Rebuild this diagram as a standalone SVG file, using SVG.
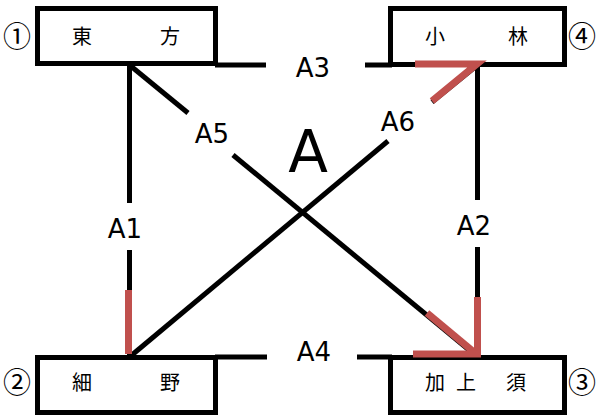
<svg xmlns="http://www.w3.org/2000/svg" width="596" height="416" viewBox="0 0 596 416">
<style>
.box{fill:#fff;stroke:#000;stroke-width:5}
.ln{stroke:#000;stroke-width:5;fill:none}
.red{stroke:#C0504D;stroke-width:7;fill:none;stroke-linecap:butt;stroke-linejoin:miter}
.lbl{font-family:"DejaVu Sans",sans-serif;font-size:26px;fill:#000;text-anchor:middle}
.big{font-family:"DejaVu Sans",sans-serif;font-size:58px;fill:#000;text-anchor:middle}
.jp{font-family:"Noto Sans CJK JP",sans-serif;font-size:20px;fill:#000;text-anchor:middle}
.num{font-family:"Noto Sans CJK JP",sans-serif;font-size:28px;fill:#000;text-anchor:middle}
</style>
<rect width="596" height="416" fill="#fff"/>
<g id="n1">
<rect class="box" x="37.5" y="8.5" width="178" height="55"/>
<text class="jp" x="82" y="44">東</text>
<text class="jp" x="170" y="44">方</text>
<text class="num" x="17" y="47">①</text>
</g>
<g id="n4">
<rect class="box" x="390.5" y="8.5" width="174" height="56"/>
<text class="jp" x="435" y="44">小</text>
<text class="jp" x="518" y="44">林</text>
<text class="num" x="582" y="47">④</text>
</g>
<g id="n2">
<rect class="box" x="37.5" y="357.5" width="178" height="55"/>
<text class="jp" x="82" y="390">細</text>
<text class="jp" x="170" y="390">野</text>
<text class="num" x="17" y="393">②</text>
</g>
<g id="n3">
<rect class="box" x="390.5" y="357.5" width="174" height="55"/>
<text class="jp" x="435" y="390">加</text>
<text class="jp" x="466" y="390">上</text>
<text class="jp" x="516" y="390">須</text>
<text class="num" x="582" y="393">③</text>
</g>
<g id="connectors">
<line class="ln" x1="129.5" y1="65" x2="129.5" y2="203"/>
<line class="ln" x1="129.5" y1="250" x2="129.5" y2="357"/>
<line class="ln" x1="477.5" y1="65" x2="477.5" y2="200"/>
<line class="ln" x1="477.5" y1="247" x2="477.5" y2="357"/>
<line class="ln" x1="215" y1="65" x2="266" y2="65"/>
<line class="ln" x1="365" y1="65" x2="392" y2="65"/>
<line class="ln" x1="215" y1="357" x2="267" y2="357"/>
<line class="ln" x1="357" y1="357" x2="392" y2="357"/>
<line class="ln" x1="129.5" y1="65" x2="188" y2="113"/>
<line class="ln" x1="233" y1="155" x2="477.5" y2="357"/>
<line class="ln" x1="129.5" y1="357" x2="388" y2="141"/>
<line class="ln" x1="432" y1="102" x2="477.5" y2="65"/>
<text class="lbl" x="313" y="77">A3</text>
<text class="lbl" x="314" y="361">A4</text>
<text class="lbl" x="125" y="238">A1</text>
<text class="lbl" x="474" y="235">A2</text>
<text class="lbl" x="212" y="143">A5</text>
<text class="lbl" x="398" y="131">A6</text>
<text class="big" x="308" y="172">A</text>
<polyline class="red" points="415,64 477,64 432,101"/>
<line class="red" x1="128.5" y1="290" x2="128.5" y2="354"/>
<polyline class="red" points="477.5,297 477.5,354 413,354"/>
<line class="red" x1="427" y1="313" x2="475" y2="353"/>
</g>
</svg>
